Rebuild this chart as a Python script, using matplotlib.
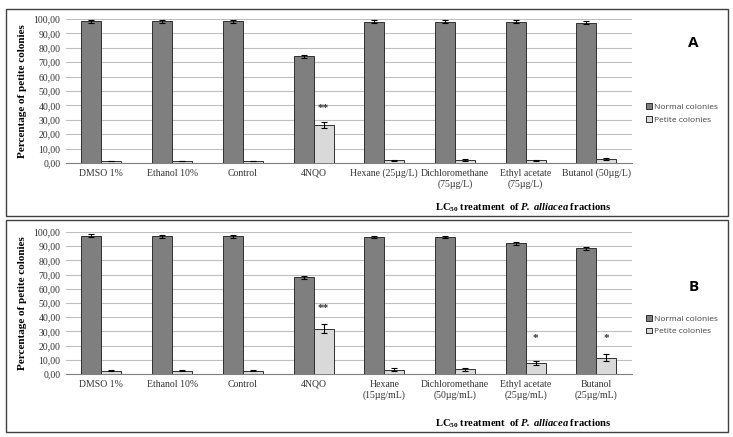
import matplotlib
matplotlib.use("Agg")
import matplotlib.pyplot as plt
import numpy as np
from matplotlib.patches import Rectangle

plt.rcParams['mathtext.fontset'] = 'custom'
plt.rcParams['mathtext.rm'] = 'Liberation Serif'
plt.rcParams['mathtext.it'] = 'Liberation Serif:italic'
plt.rcParams['mathtext.bf'] = 'Liberation Serif:bold'
plt.rcParams['mathtext.bfit'] = 'Liberation Serif:italic:bold'

labelsA = ["DMSO 1%", "Ethanol 10%", "Control", "4NQO", "Hexane (25µg/L)",
           "Dichloromethane\n(75µg/L)", "Ethyl acetate\n(75µg/L)", "Butanol (50µg/L)"]
normalA = [98.5, 98.5, 98.5, 74.0, 98.0, 98.0, 98.0, 97.5]
normalA_err = [1.0, 1.0, 1.0, 0.8, 1.0, 1.0, 1.0, 1.0]
petiteA = [1.5, 1.5, 1.5, 26.5, 1.8, 2.0, 2.0, 2.8]
petiteA_err = [0.1, 0.1, 0.1, 2.0, 0.4, 0.5, 0.4, 0.4]
starsA = ["", "", "", "**", "", "", "", ""]

labelsB = ["DMSO 1%", "Ethanol 10%", "Control", "4NQO", "Hexane\n(15µg/mL)",
           "Dichloromethane\n(50µg/mL)", "Ethyl acetate\n(25µg/mL)", "Butanol\n(25µg/mL)"]
normalB = [97.5, 97.0, 97.0, 68.0, 96.5, 96.5, 92.0, 88.5]
normalB_err = [1.0, 1.0, 1.0, 1.0, 1.0, 1.0, 1.0, 1.0]
petiteB = [2.5, 2.5, 2.5, 32.0, 3.0, 3.5, 8.0, 11.5]
petiteB_err = [0.1, 0.1, 0.1, 3.0, 1.0, 1.0, 1.5, 2.5]
starsB = ["", "", "", "**", "", "", "*", "*"]

yticks = np.arange(0, 101, 10)

fig = plt.figure(figsize=(7.33, 4.37), dpi=100)

# panel frames
for y0, h in [(0.506, 0.473), (0.011, 0.486)]:
    fig.patches.append(Rectangle((0.008, y0), 0.985, h, transform=fig.transFigure,
                                 fill=False, edgecolor='#404040', linewidth=1.0))

def panel(rect, labels, normal, nerr, petite, perr, stars, star_y, letter, letter_y, leg_y):
    ax = fig.add_axes(rect)
    x = np.arange(len(labels))
    w = 0.283
    ax.bar(x - w/2, normal, w, yerr=nerr, color='#7f7f7f', edgecolor='#303030',
           linewidth=0.7, capsize=2, error_kw=dict(elinewidth=0.8, capthick=0.8, ecolor='black'),
           label='Normal colonies', zorder=3)
    ax.bar(x + w/2, petite, w, yerr=perr, color='#d9d9d9', edgecolor='#303030',
           linewidth=0.7, capsize=2, error_kw=dict(elinewidth=0.8, capthick=0.8, ecolor='black'),
           label='Petite colonies', zorder=3)
    for i, s in enumerate(stars):
        if s:
            ax.text(x[i] + w/2, star_y[s], s, ha='center', va='center', fontsize=8,
                    fontweight='bold', family='Liberation Serif', color='#333333')
    ax.set_xlim(-0.5, len(labels) - 0.5)
    ax.set_ylim(0, 100)
    ax.set_yticks(yticks)
    ax.set_yticklabels([("%.2f" % v).replace('.', ',') for v in yticks],
                       family='Liberation Serif', fontsize=7, color='#333333')
    ax.set_xticks(x)
    ax.set_xticklabels(labels, family='Liberation Serif', fontsize=7, color='#333333')
    ax.tick_params(axis='both', length=0, pad=4)
    ax.yaxis.grid(True, color='#bfbfbf', linewidth=0.8, zorder=0)
    ax.set_axisbelow(True)
    for s in ['top', 'right', 'left']:
        ax.spines[s].set_visible(False)
    ax.spines['bottom'].set_color('#808080')
    ax.set_ylabel("Percentage of petite colonies", family='Liberation Serif',
                  fontweight='bold', fontsize=8, labelpad=5)
    fig.text(0.714, letter_y[1], r"$\mathbf{LC}_{\mathbf{50}}\mathbf{\ treatment\ \ of\ }"
             r"\mathbfit{P.\ alliacea}\mathbf{\ fractions}$", ha='center', va='center', fontsize=7.6)
    fig.text(0.946, letter_y[0], letter, ha='center', va='center', fontsize=11,
             fontweight='bold', family='Open Sans')
    ax.legend(loc='center left', bbox_to_anchor=(0.871, leg_y), bbox_transform=fig.transFigure,
              frameon=False, handlelength=0.7, handleheight=0.7,
              handletextpad=0.3, labelspacing=0.6, prop={'family': 'Open Sans', 'size': 6},
              labelcolor='#404040')
    return ax

panel([0.090, 0.627, 0.772, 0.3295], labelsA, normalA, normalA_err, petiteA, petiteA_err,
      starsA, {'**': 38, '*': 20}, 'A', (0.902, 0.524), 0.740)
panel([0.090, 0.144, 0.772, 0.325], labelsB, normalB, normalB_err, petiteB, petiteB_err,
      starsB, {'**': 46, '*': 25}, 'B', (0.343, 0.030), 0.256)

fig.savefig("out.png", dpi=100)
